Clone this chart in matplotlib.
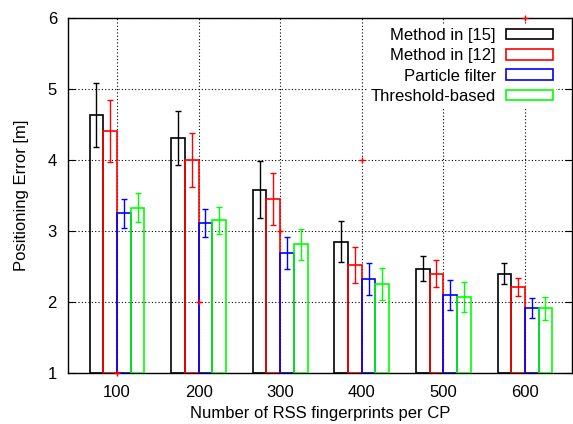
import matplotlib
matplotlib.use("Agg")
import matplotlib.pyplot as plt
import numpy as np

plt.rcParams['font.family'] = ['Liberation Sans', 'DejaVu Sans']

categories = ['100', '200', '300', '400', '500', '600']
series_names = ['Method in [15]', 'Method in [12]', 'Particle filter', 'Threshold-based']
colors = ['#000000', '#ff0000', '#0000ff', '#00ff00']

m15 = [4.63, 4.31, 3.58, 2.85, 2.47, 2.40]
m15_err = [0.45, 0.385, 0.40, 0.29, 0.175, 0.145]
m12 = [4.41, 4.00, 3.45, 2.52, 2.40, 2.21]
m12_err = [0.44, 0.38, 0.36, 0.255, 0.185, 0.125]
pf = [3.25, 3.11, 2.69, 2.33, 2.10, 1.91]
pf_err = [0.205, 0.20, 0.225, 0.225, 0.215, 0.14]
thr = [3.33, 3.15, 2.81, 2.26, 2.07, 1.91]
thr_err = [0.20, 0.195, 0.22, 0.225, 0.21, 0.16]

# stray red '+' points visible in the reference
stray_y = [1, 2, 3, 4, 5, 6]

values = [m15, m12, pf, thr]
errors = [m15_err, m12_err, pf_err, thr_err]

fig = plt.figure(figsize=(5.73, 4.24), dpi=100)
ax = fig.add_axes([0.1187, 0.1203, 0.8793, 0.8372])

x = np.arange(len(categories))
w = 0.168
offsets = [-1.5, -0.5, 0.5, 1.5]
handles = []
for vals, errs, c, off, name in zip(values, errors, colors, offsets, series_names):
    b = ax.bar(x + off * w, np.array(vals) - 1, width=w, bottom=1, facecolor='none',
               edgecolor=c, linewidth=1.2, label=name, zorder=3)
    ax.errorbar(x + off * w, vals, yerr=errs, fmt='none', ecolor=c, elinewidth=1.0,
                capsize=2.5, capthick=1.0, zorder=4)
    handles.append(b)

ax.plot(x, stray_y, linestyle='none', marker='+', color='#ff0000', markersize=5,
        markeredgewidth=1.0, zorder=5, clip_on=False)

ax.set_xlim(-0.6, 5.575)
ax.set_ylim(1, 6)
ax.set_xticks(x)
ax.set_xticklabels(categories)
ax.set_yticks([1, 2, 3, 4, 5, 6])
ax.tick_params(axis='x', length=0, labelsize=12, pad=9)
ax.tick_params(axis='y', direction='in', length=5, right=True, labelsize=12, pad=8)
ax.grid(True, linestyle=(0, (1, 2)), color='#000000', linewidth=0.8, zorder=0)
ax.set_axisbelow(True)
for s in ax.spines.values():
    s.set_linewidth(1.0)

ax.set_xlabel('Number of RSS fingerprints per CP', fontsize=12, labelpad=4)
ax.set_ylabel('Positioning Error [m]', fontsize=12, labelpad=13)

leg = ax.legend(handles=handles, loc='upper right', bbox_to_anchor=(0.969, 0.982),
                frameon=True, fontsize=12,
                markerfirst=False, handlelength=2.82, handleheight=0.6,
                labelspacing=0.325, borderaxespad=0.0, borderpad=0.2,
                handletextpad=0.6, fancybox=False)
leg.get_frame().set_edgecolor('none')
leg.get_frame().set_facecolor('white')
leg.get_frame().set_alpha(1.0)
for t in leg.get_texts():
    t.set_ha('right')
leg._legend_box.align = 'right'

fig.savefig('out.png', dpi=100)
